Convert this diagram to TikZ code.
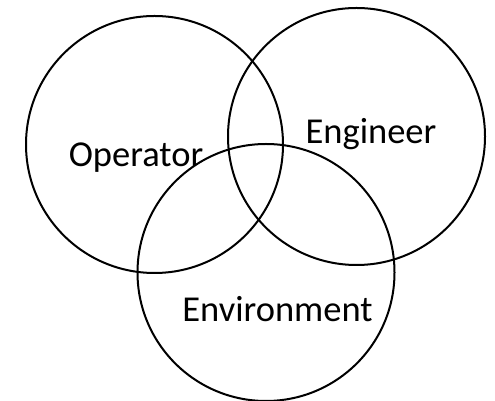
\documentclass[tikz,border=0pt]{standalone}
\usepackage{fontspec}
\setmainfont{Carlito}
\usepackage{tikz}

\tikzset{
	venn/.style={circle, draw, line width=2pt, minimum size=257pt, inner sep=0pt},
	vennlabel/.style={anchor=base, inner sep=0pt, font=\fontsize{36.5}{43}\selectfont}
}

\begin{document}
\begin{tikzpicture}[x=1pt,y=1pt]

	\useasboundingbox (0,0) rectangle (495,401);

	\node [venn] (operator) at (154.5,256.5) {};
	\node [venn] (engineer) at (356.5,264.5) {};
	\node [venn] (environment) at (266,128.5) {};

	\node [vennlabel] (operatortext) at (136,234) {Operator};
	\node [vennlabel] (engineertext) at (371,257) {Engineer};
	\node [vennlabel] (environmenttext) at (277.5,79) {Environment};
\end{tikzpicture}
\end{document}
